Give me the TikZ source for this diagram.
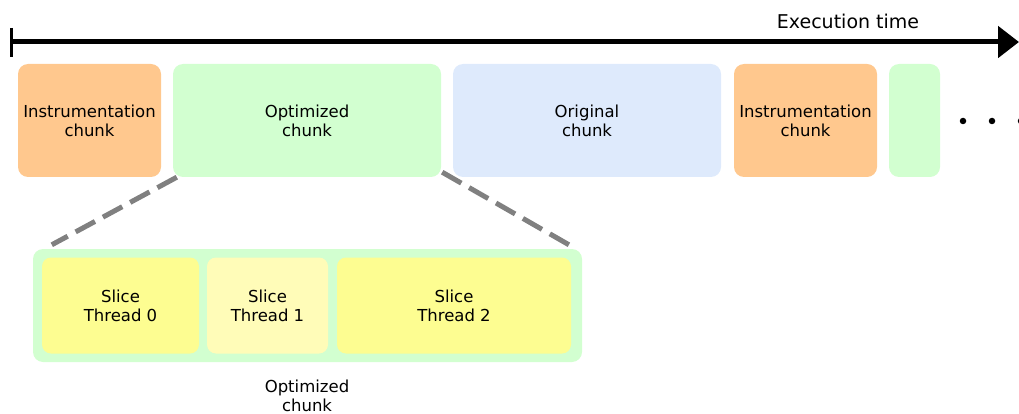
\documentclass[tikz,border=0pt]{standalone}
\usepackage{fontspec}
\setmainfont{DejaVu Sans}
\usetikzlibrary{arrows.meta,calc}
\definecolor{instr}{RGB}{255,200,142}
\definecolor{optim}{RGB}{210,255,208}
\definecolor{orig}{RGB}{222,234,252}
\definecolor{slice}{RGB}{253,253,145}
\definecolor{slicelight}{RGB}{255,252,184}
\definecolor{zoomline}{RGB}{128,128,128}
\tikzset{
  chunkbox/.style={rounded corners=10pt, inner sep=0pt, align=center,
    font=\fontsize{16.5}{19}\selectfont, text=black},
  slicebox/.style={chunkbox, rounded corners=9pt},
  label text/.style={align=center, font=\fontsize{16.5}{19}\selectfont, text=black},
  dot/.style={circle, fill=black, inner sep=0pt, minimum size=6.5pt},
  zoomdash/.style={draw=zoomline, line width=5pt, dash pattern=on 22pt off 9pt}
}
\begin{document}
\begin{tikzpicture}[x=1pt,y=-1pt]
\useasboundingbox (0,0) rectangle (1019,414);
\clip (0,0) rectangle (1019,414);

% time axis
\coordinate (t0) at (11,42);
\coordinate (t1) at (1019,42);
\draw[line width=5pt, -{Triangle[length=21pt,width=31pt]}] (t0) -- (t1);
\draw[line width=3pt] (11,28) -- (11,57);
\node[font=\fontsize{19}{22}\selectfont, text=black] (xlabel) at (848,21) {Execution time};

% chunks along the execution
\node[chunkbox, fill=instr, minimum width=143pt, minimum height=113pt] (instrA) at (89.5,120.5) {Instrumentation\\chunk};
\node[chunkbox, fill=optim, minimum width=268pt, minimum height=113pt] (opt) at (307,120.5) {Optimized\\chunk};
\node[chunkbox, fill=orig, minimum width=268pt, minimum height=113pt] (orig) at (587,120.5) {Original\\chunk};
\node[chunkbox, fill=instr, minimum width=143pt, minimum height=113pt] (instrB) at (805.5,120.5) {Instrumentation\\chunk};
\node[chunkbox, fill=optim, minimum width=51pt, minimum height=113pt] (optB) at (914.5,120.5) {};

\node[dot] (d1) at (963,121) {};
\node[dot] (d2) at (992,121) {};
\node[dot] (d3) at (1021,121) {};

% expanded view of the optimized chunk
\node[chunkbox, fill=optim, minimum width=549pt, minimum height=113pt] (detail) at (307.5,305.5) {};
\node[slicebox, fill=slice, minimum width=157pt, minimum height=96pt] (s0) at (120.5,305.5) {Slice\\Thread 0};
\node[slicebox, fill=slicelight, minimum width=121pt, minimum height=96pt] (s1) at (267.5,305.5) {Slice\\Thread 1};
\node[slicebox, fill=slice, minimum width=234pt, minimum height=96pt] (s2) at (454,305.5) {Slice\\Thread 2};
\node[label text] (detaillabel) at (307,396) {Optimized\\chunk};

% zoom lines
\draw[zoomdash] ($(opt.south west)+(4,0)$) -- ($(detail.north west)+(19,-4)$);
\draw[zoomdash] ($(opt.south east)+(1,-5)$) -- ($(detail.north east)+(-8,-1)$);
\end{tikzpicture}
\end{document}
